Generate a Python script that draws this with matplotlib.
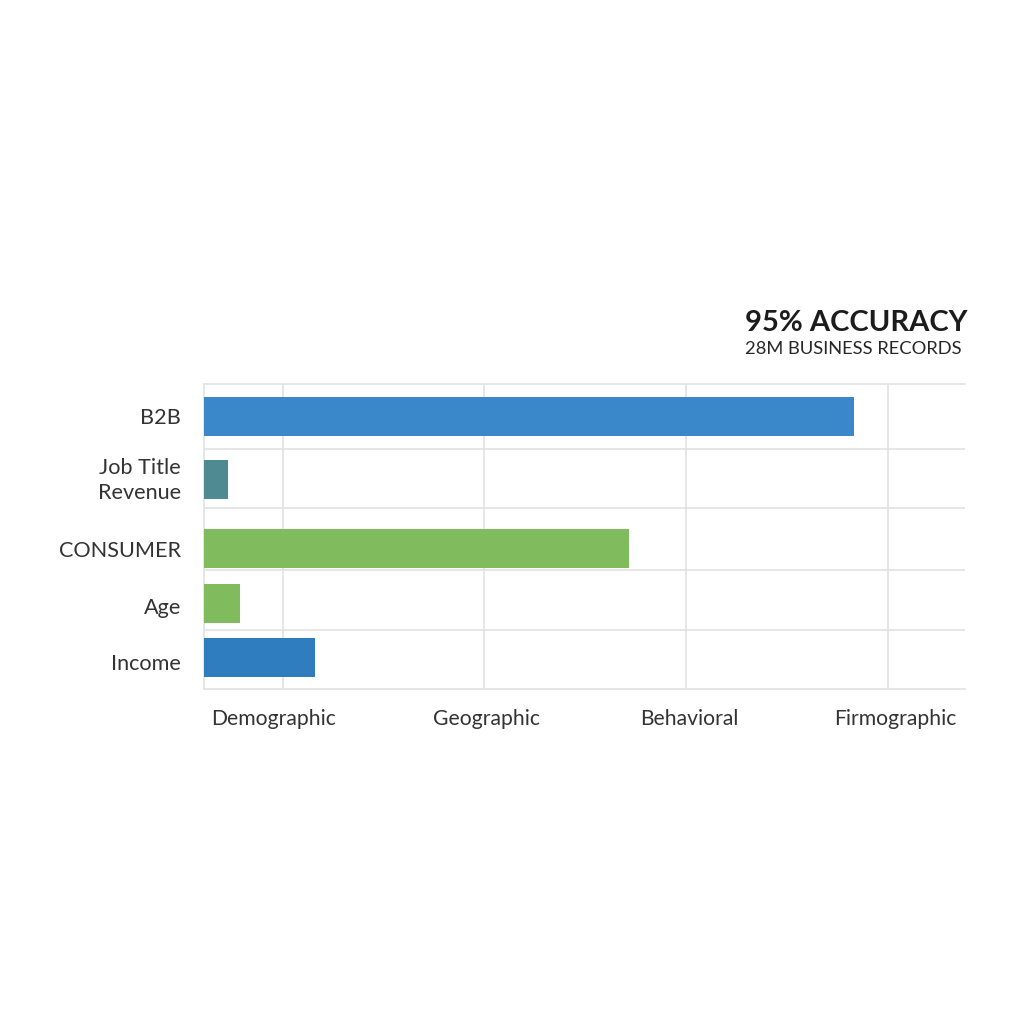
"""Horizontal bars by data category, 95% accuracy callout."""

import matplotlib

matplotlib.use("Agg")
import matplotlib.pyplot as plt  # noqa: E402

categories = ["B2B", "Job Title", "Revenue", "CONSUMER", "Age", "Income"]
values = [650, 24, 425, 36, 111]
x_labels = ["Demographic", "Geographic", "Behavioral", "Firmographic"]
x_grid = [79, 280, 482, 684]

# layout, in pixels of the 1024 canvas
AX_LEFT, AX_RIGHT, AX_TOP, AX_BOTTOM = 204, 965, 384, 689
BAR_Y = [32.5, 95.5, 164.5, 219.5, 273.5]
ROW_LINES = [65, 124, 186, 246]
LABEL_BASE = [424, 474, 499, 557, 614, 670]
LABEL_X = [274, 487, 689, 895]
BAR_COLORS = ["#3a88c9", "#4f8a93", "#80bc5e", "#80bc5e", "#2f7dbf"]
GRID = "#e2e2e2"
TEXT = "#333333"

plt.rcParams["font.family"] = ["Lato", "DejaVu Sans"]

fig = plt.figure(figsize=(10.24, 10.24), dpi=100)
ax = fig.add_axes([AX_LEFT / 1024, 1 - AX_BOTTOM / 1024,
                   (AX_RIGHT - AX_LEFT) / 1024, (AX_BOTTOM - AX_TOP) / 1024])
ax.set_xlim(0, AX_RIGHT - AX_LEFT)
ax.set_ylim(AX_BOTTOM - AX_TOP, 0)

ax.barh(BAR_Y, values, height=39, color=BAR_COLORS, zorder=3)

for x in x_grid:
    ax.axvline(x, color=GRID, lw=1.2, zorder=1)
for y in ROW_LINES:
    ax.axhline(y, color=GRID, lw=1.2, zorder=1)

ax.spines["right"].set_visible(False)
for s in ("left", "top", "bottom"):
    ax.spines[s].set_color(GRID)
    ax.spines[s].set_linewidth(1.2)
ax.set_xticks([])
ax.set_yticks([])

for label, py in zip(categories, LABEL_BASE):
    fig.text(181 / 1024, 1 - py / 1024, label, ha="right", va="baseline",
             fontsize=15.6, color=TEXT)
for label, px in zip(x_labels, LABEL_X):
    fig.text(px / 1024, 1 - 725 / 1024, label, ha="center", va="baseline",
             fontsize=15.2, color=TEXT)

fig.text(745 / 1024, 1 - 331 / 1024, "95% ACCURACY", fontsize=21,
         fontweight="bold", color="#1c1c1c", va="baseline")
fig.text(745 / 1024, 1 - 354 / 1024, "28M BUSINESS RECORDS", fontsize=13.2,
         color="#262626", va="baseline")

fig.savefig("out.png", dpi=100, facecolor="white")
